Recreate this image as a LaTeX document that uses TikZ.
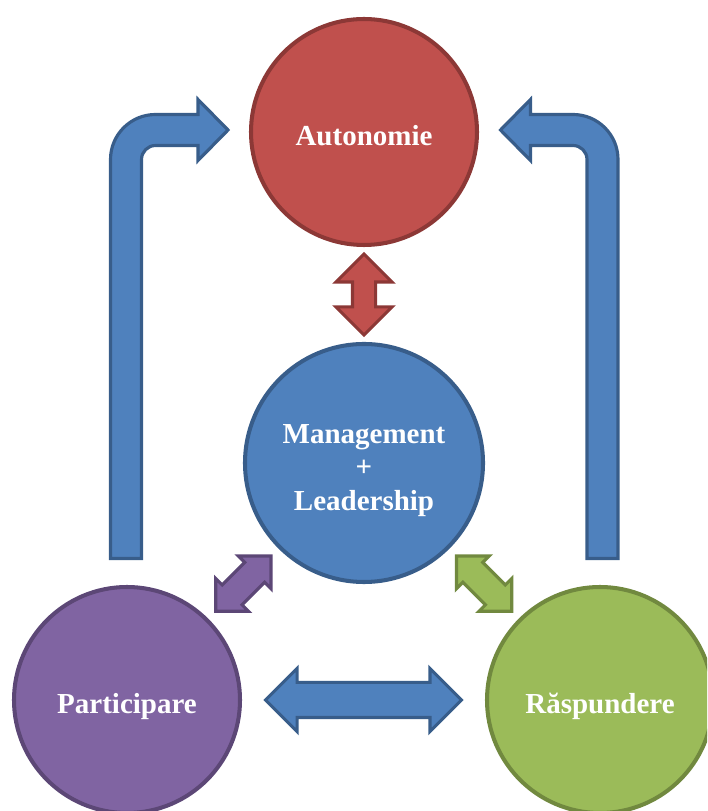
\documentclass[tikz,border=0pt]{standalone}
\usepackage{fontspec}
\setmainfont{Liberation Serif}
\usetikzlibrary{shapes.arrows,calc}

\definecolor{autored}{HTML}{C0504D}
\definecolor{autoline}{HTML}{8C3836}
\definecolor{mblue}{HTML}{4F81BD}
\definecolor{mblueline}{HTML}{385D8A}
\definecolor{partviolet}{HTML}{8064A2}
\definecolor{partline}{HTML}{5C4776}
\definecolor{raspgreen}{HTML}{9BBB59}
\definecolor{raspline}{HTML}{71893F}

\begin{document}
\begin{tikzpicture}[
    disc/.style={circle,inner sep=0pt,minimum size=4.52cm,line width=2.3pt,
        text=white,font=\bfseries\fontsize{16.5}{19}\selectfont,align=center,
        text height=18.8pt,text depth=3.6pt},
    link/.style={double arrow,inner xsep=0pt,line width=1.8pt},
    flow/.style={fill=mblue,draw=mblueline,line width=1.8pt}
]
    \useasboundingbox (0,0) rectangle (14.14,16.22);
    \clip (0,0) rectangle (14.14,16.22);

    \node[disc,fill=autored,draw=autoline] (auto) at (7.28,13.58) {Autonomie};
    \node[disc,fill=mblue,draw=mblueline,minimum size=4.76cm,text height=57.5pt]
        (mgmt) at (7.28,6.96) {Management\\+\\Leadership};
    \node[disc,fill=partviolet,draw=partline] (part) at (2.54,2.22) {Participare};
    \node[disc,fill=raspgreen,draw=raspline] (rasp) at (12.0,2.22) {Răspundere};

    % double arrows between the discs
    \node[link,fill=autored,draw=autoline,rotate=90,minimum height=1.62cm,
        inner ysep=0.2cm,double arrow head extend=0.33cm]
        (am) at ($(auto.south)!0.5!(mgmt.north)$) {};
    \node[link,fill=mblue,draw=mblueline,minimum height=3.92cm,
        inner ysep=0.32cm,double arrow head extend=0.28cm]
        (pr) at ($(part.east)!0.5!(rasp.west)$) {};
    \node[link,fill=partviolet,draw=partline,rotate=45,minimum height=1.56cm,
        inner ysep=0.25cm,double arrow head extend=0.18cm]
        (mp) at ($(mgmt.south west)!0.5!(part.north east)$) {};
    \node[link,fill=raspgreen,draw=raspline,rotate=-45,minimum height=1.56cm,
        inner ysep=0.25cm,double arrow head extend=0.18cm]
        (mr) at ($(mgmt.south east)!0.5!(rasp.north west)$) {};

    % bent arrows up to Autonomie
    \draw[flow] (2.21,5.05) -- (2.21,13.03) arc[start angle=180,end angle=90,radius=0.9]
        -- (3.96,13.93) -- (3.96,14.23) -- (4.56,13.62) -- (3.96,13.01) -- (3.96,13.31)
        -- (3.11,13.31) arc[start angle=90,end angle=180,radius=0.28] -- (2.83,5.05) -- cycle;
    \draw[flow] (12.36,5.05) -- (12.36,13.03) arc[start angle=0,end angle=90,radius=0.9]
        -- (10.61,13.93) -- (10.61,14.23) -- (10.01,13.62) -- (10.61,13.01) -- (10.61,13.31)
        -- (11.46,13.31) arc[start angle=90,end angle=0,radius=0.28] -- (11.74,5.05) -- cycle;
\end{tikzpicture}
\end{document}
